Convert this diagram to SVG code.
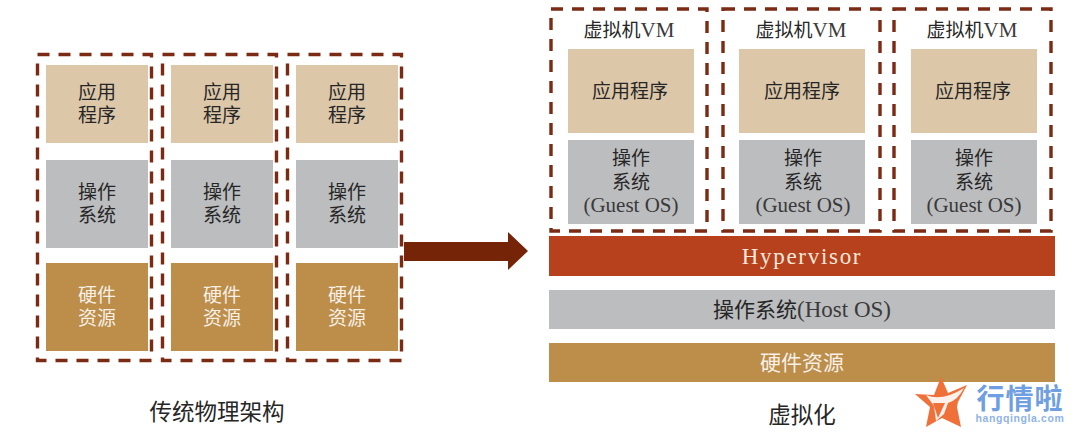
<svg xmlns="http://www.w3.org/2000/svg" width="1080" height="433" viewBox="0 0 1080 433">
<style>
text{font-family:"Noto Sans CJK SC","Noto Sans",sans-serif;font-size:19px;fill:#262626;text-anchor:middle}
.lat{font-family:"Liberation Serif","Noto Sans CJK SC",serif;font-size:21px;fill:#3a3a3a}
.frame{fill:none;stroke:#7b2a13;stroke-width:3.4;stroke-dasharray:12 9}
.app{fill:#dcc7a9}.os{fill:#bcbdbf}.hw{fill:#bd8d4a}.lw{fill:#f5f0e6}
.bar{font-size:21px}.cap{font-size:22.500px}
</style>
<g id="conn"><path d="M404 242H508V232L528 251L508 270V261H404Z" fill="#752408"/></g>
<g id="phys1"><rect class="frame" x="37.500" y="54.500" width="114" height="306"/>
<rect class="app" x="46" y="65" width="102" height="78"/><rect class="os" x="46" y="160" width="102" height="88"/><rect class="hw" x="46" y="263" width="102" height="88"/>
<text x="97" y="99">应用<tspan x="97" dy="23">程序</tspan></text><text x="97" y="199">操作<tspan x="97" dy="23">系统</tspan></text><text class="lw" x="97" y="302">硬件<tspan x="97" dy="23">资源</tspan></text></g>
<g id="phys2"><rect class="frame" x="162.500" y="54.500" width="114" height="306"/>
<rect class="app" x="171" y="65" width="102" height="78"/><rect class="os" x="171" y="160" width="102" height="88"/><rect class="hw" x="171" y="263" width="102" height="88"/>
<text x="222" y="99">应用<tspan x="222" dy="23">程序</tspan></text><text x="222" y="199">操作<tspan x="222" dy="23">系统</tspan></text><text class="lw" x="222" y="302">硬件<tspan x="222" dy="23">资源</tspan></text></g>
<g id="phys3"><rect class="frame" x="287.500" y="54.500" width="114" height="306"/>
<rect class="app" x="296" y="65" width="102" height="78"/><rect class="os" x="296" y="160" width="102" height="88"/><rect class="hw" x="296" y="263" width="102" height="88"/>
<text x="347" y="99">应用<tspan x="347" dy="23">程序</tspan></text><text x="347" y="199">操作<tspan x="347" dy="23">系统</tspan></text><text class="lw" x="347" y="302">硬件<tspan x="347" dy="23">资源</tspan></text></g>
<g id="vm1"><rect class="frame" x="551" y="9" width="156" height="222"/><rect class="app" x="568" y="49" width="126" height="84"/><rect class="os" x="568" y="140" width="126" height="84"/>
<text x="629" y="37">虚拟机<tspan class="lat">VM</tspan></text><text x="630" y="98">应用程序</text><text x="631" y="165">操作<tspan x="631" dy="24">系统</tspan><tspan class="lat" x="631" dy="23">(Guest OS)</tspan></text></g>
<g id="vm2"><rect class="frame" x="723" y="9" width="157" height="222"/><rect class="app" x="739" y="49" width="126" height="84"/><rect class="os" x="739" y="140" width="126" height="84"/>
<text x="801" y="37">虚拟机<tspan class="lat">VM</tspan></text><text x="802" y="98">应用程序</text><text x="803" y="165">操作<tspan x="803" dy="24">系统</tspan><tspan class="lat" x="803" dy="23">(Guest OS)</tspan></text></g>
<g id="vm3"><rect class="frame" x="894" y="9" width="157" height="222"/><rect class="app" x="911" y="49" width="126" height="84"/><rect class="os" x="911" y="140" width="126" height="84"/>
<text x="972" y="37">虚拟机<tspan class="lat">VM</tspan></text><text x="973" y="98">应用程序</text><text x="974" y="165">操作<tspan x="974" dy="24">系统</tspan><tspan class="lat" x="974" dy="23">(Guest OS)</tspan></text></g>
<g id="hypervisor"><rect x="549" y="236" width="506" height="40" fill="#b8411d"/><text class="lat" x="802" y="264" style="fill:#f5e9dc;font-size:23px;letter-spacing:1.700px">Hypervisor</text></g>
<g id="hostos"><rect class="os" x="549" y="290" width="506" height="39"/><text class="bar" x="802" y="317">操作系统<tspan class="lat" style="font-size:23px">(Host OS)</tspan></text></g>
<g id="hardware"><rect class="hw" x="549" y="343" width="506" height="39"/><text class="lw bar" x="802" y="370">硬件资源</text></g>
<g id="captions"><text class="cap" x="217" y="420">传统物理架构</text><text class="cap" x="802" y="423">虚拟化</text></g>
<g id="logo">
<path d="M941 377L948 393L967 385L958 402L957 407L961 427L942 418L926 427L930 407L915 394L934 395Z" fill="#f0703a"/>
<path d="M926 395Q942 402 964 388Q958 400 948 403L944 414L936 421L934 406Z" fill="#fff" opacity=".9"/>
<path d="M933 403L945 403L938 418Z" fill="#f0703a"/>
<text x="1020" y="409" style="font-size:28px;font-weight:700;fill:#6f9fe0;letter-spacing:1px">行情啦<tspan x="1020" dy="13" style="font-family:'Liberation Sans',sans-serif;font-size:10.500px;fill:#8fb3e6;letter-spacing:.6px">hangqingla.com</tspan></text></g>
</svg>
